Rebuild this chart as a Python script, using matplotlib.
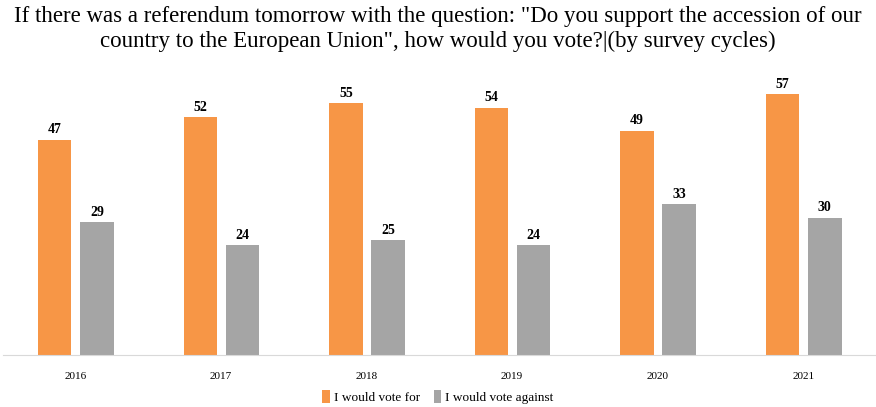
import matplotlib
matplotlib.use("Agg")
import matplotlib.pyplot as plt
import numpy as np

# Données
years = ["2016", "2017", "2018", "2019", "2020", "2021"]
vote_for = [47, 52, 55, 54, 49, 57]
vote_against = [29, 24, 25, 24, 33, 30]

orange = "#F79646"
grey = "#A5A5A5"

plt.rcParams['font.family'] = ['Liberation Serif', 'DejaVu Serif']

fig = plt.figure(figsize=(8.76, 4.07), dpi=100)
ax = fig.add_axes([0.003, 0.128, 0.997, 0.72])

x = np.arange(len(years))
w = 0.23
b1 = ax.bar(x - 0.142, vote_for, w, color=orange, label="I would vote for")
b2 = ax.bar(x + 0.148, vote_against, w, color=grey, label="I would vote against")

# étiquettes de valeurs
for bars in (b1, b2):
    for r in bars:
        ax.text(r.get_x() + r.get_width() / 2, r.get_height() + 0.7, f"{int(r.get_height())}",
                ha="center", va="bottom", fontsize=10, fontweight="bold")

ax.set_xlim(-0.5, len(years) - 0.5)
ax.set_ylim(0, 64)
ax.set_xticks(x)
ax.set_xticklabels(years, fontsize=8)
ax.tick_params(axis="x", length=0, pad=12)
ax.set_yticks([])
for s in ["top", "right", "left"]:
    ax.spines[s].set_visible(False)
ax.spines["bottom"].set_color("#D9D9D9")

fig.text(0.5, 0.985, "If there was a referendum tomorrow with the question: \"Do you support the accession of our\n"
         "country to the European Union\", how would you vote?|(by survey cycles)",
         ha="center", va="top", fontsize=16.5, linespacing=1.25)

fig.legend(handles=[b1, b2], loc="lower center", bbox_to_anchor=(0.5, -0.022), ncol=2,
           frameon=False, fontsize=9.5, handlelength=0.6, handleheight=1.1, handletextpad=0.3,
           columnspacing=1.0)

fig.savefig("out.png", dpi=100)
